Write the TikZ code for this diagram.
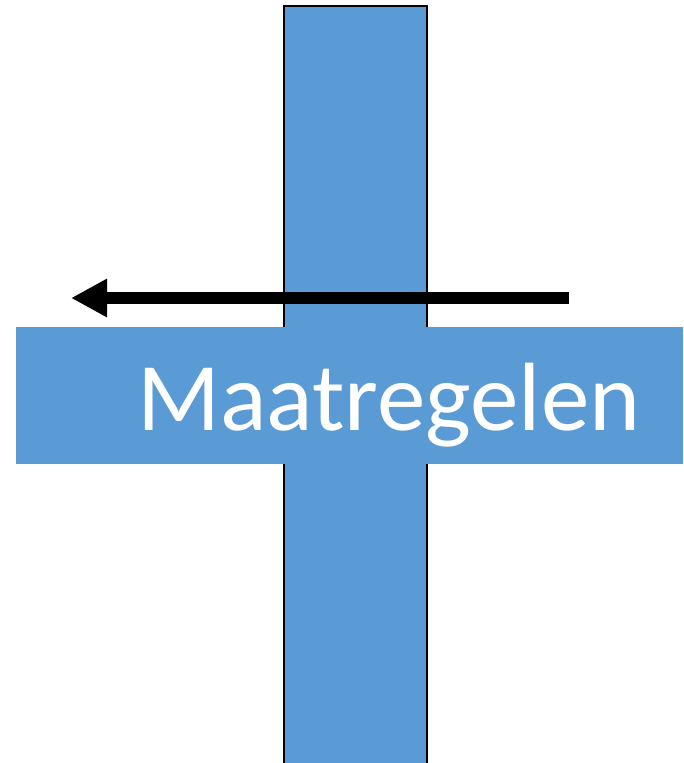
\documentclass[tikz,border=0pt]{standalone}
\usepackage{fontspec}
\setmainfont{Carlito}
\usetikzlibrary{arrows.meta}
\definecolor{barblue}{HTML}{5B9BD5}
\begin{document}
\begin{tikzpicture}[
    x=1pt, y=-1pt,
    bar/.style={fill=barblue, inner sep=0, outer sep=0, anchor=north west},
    label/.style={text=white, font=\fontsize{97}{107}\selectfont, inner sep=0, anchor=base west},
    move/.style={line width=12pt, -{Triangle[length=36pt,width=36pt]}}
]
\useasboundingbox (0,0) rectangle (683,763);

\begin{scope}
\clip (0,0) rectangle (683,763);
\node[bar, draw=black, line width=1.5pt, minimum width=143pt, minimum height=780pt] (vbar) at (284,6) {};
\end{scope}
\node[bar, minimum width=667pt, minimum height=137pt] (hbar) at (16,327) {};
\node[label] (name) at (137,430) {Maatregelen};

\coordinate (start) at (569,298);
\coordinate (tip) at (71,298);
\draw[move] (start) -- (tip);

\end{tikzpicture}
\end{document}
